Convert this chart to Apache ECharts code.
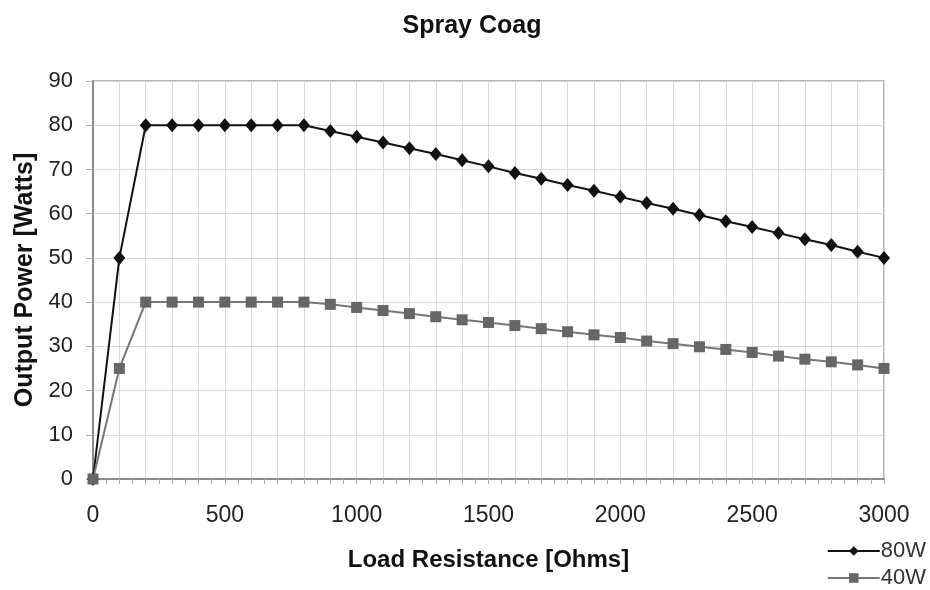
<!DOCTYPE html>
<html>
<head>
<meta charset="utf-8">
<title>Spray Coag</title>
<script src="https://cdn.jsdelivr.net/npm/echarts@6/dist/echarts.min.js"></script>
<style>
  html, body { margin: 0; padding: 0; background: #fff; }
  #chart { width: 930px; height: 590px; }
</style>
</head>
<body>
<div id="chart"></div>
<script>
// Load resistance steps (Ohms)
const resistance = [0, 100, 200, 300, 400, 500, 600, 700, 800, 900, 1000,
  1100, 1200, 1300, 1400, 1500, 1600, 1700, 1800, 1900, 2000,
  2100, 2200, 2300, 2400, 2500, 2600, 2700, 2800, 2900, 3000];

// Output power (Watts) for each setting
const power80W = [0, 50, 80, 80, 80, 80, 80, 80, 80, 78.7, 77.4,
  76.1, 74.8, 73.5, 72.1, 70.7, 69.2, 67.9, 66.5, 65.2, 63.8,
  62.4, 61.1, 59.7, 58.3, 57.0, 55.6, 54.2, 52.9, 51.4, 50];
const power40W = [0, 25, 40, 40, 40, 40, 40, 40, 40, 39.5, 38.8,
  38.1, 37.4, 36.7, 36.0, 35.4, 34.7, 34.0, 33.3, 32.6, 32.0,
  31.2, 30.6, 29.9, 29.3, 28.6, 27.8, 27.1, 26.5, 25.8, 25];

// Labelled ticks
const xTickLabels = [0, 500, 1000, 1500, 2000, 2500, 3000];
const yTickLabels = [0, 10, 20, 30, 40, 50, 60, 70, 80, 90];

const FONT = "'Liberation Sans', Arial, Helvetica, sans-serif";

const pairs = (ys) => resistance.map((x, i) => [x, ys[i]]);

const chart = echarts.init(document.getElementById('chart'), null, { renderer: 'canvas' });

chart.setOption({
  backgroundColor: '#ffffff',
  animation: false,
  title: {
    text: 'Spray Coag',
    left: 467,
    top: 9,
    textAlign: 'center',
    textStyle: { fontFamily: FONT, fontSize: 25, fontWeight: 'bold', color: '#111' }
  },
  legend: {
    orient: 'vertical',
    right: 4,
    top: 540,
    padding: 0,
    itemWidth: 52,
    itemHeight: 12,
    itemGap: 5,
    textStyle: { fontFamily: FONT, fontSize: 22, color: '#333', padding: [0, 0, 0, -4] },
    data: ['80W', '40W']
  },
  grid: {
    left: 93,
    right: 46,
    top: 81,
    bottom: 111,
    show: true,
    borderColor: '#a0a0a0',
    borderWidth: 1.5,
    backgroundColor: '#fff'
  },
  xAxis: {
    type: 'value',
    min: 0,
    max: 3000,
    interval: 100,
    name: 'Load Resistance [Ohms]',
    nameLocation: 'middle',
    nameGap: 69,
    nameTextStyle: { fontFamily: FONT, fontSize: 24, fontWeight: 'bold', color: '#111' },
    axisLine: { lineStyle: { color: '#8c8c8c', width: 2 } },
    axisTick: { show: true, length: 5, lineStyle: { color: '#aaa', width: 1 } },
    minorTick: { show: true, splitNumber: 2, length: 5, lineStyle: { color: '#aaa', width: 1 } },
    splitLine: { show: true, lineStyle: { color: '#d9d9d9', width: 1 } },
    axisLabel: {
      margin: 25,
      fontFamily: FONT,
      fontSize: 23,
      color: '#222',
      formatter: (v) => (xTickLabels.indexOf(v) >= 0 ? String(v) : '')
    }
  },
  yAxis: {
    type: 'value',
    min: 0,
    max: 90,
    interval: 10,
    name: 'Output Power [Watts]',
    nameLocation: 'middle',
    nameGap: 55,
    nameTextStyle: { fontFamily: FONT, fontSize: 25, fontWeight: 'bold', color: '#111' },
    axisLine: { show: true, lineStyle: { color: '#8c8c8c', width: 2 } },
    axisTick: { show: true, length: 7, lineStyle: { color: '#aaa', width: 1 } },
    splitLine: { show: true, lineStyle: { color: '#d9d9d9', width: 1 } },
    axisLabel: {
      margin: 20,
      fontFamily: FONT,
      fontSize: 22,
      color: '#222',
      formatter: (v) => (yTickLabels.indexOf(v) >= 0 ? String(v) : '')
    }
  },
  series: [
    {
      name: '80W',
      type: 'line',
      data: pairs(power80W),
      symbol: 'diamond',
      symbolSize: [12, 14],
      itemStyle: { color: '#111' },
      lineStyle: { color: '#111', width: 2 },
      emphasis: { disabled: true }
    },
    {
      name: '40W',
      type: 'line',
      data: pairs(power40W),
      symbol: 'rect',
      symbolSize: 11,
      itemStyle: { color: '#666' },
      lineStyle: { color: '#777', width: 2 },
      emphasis: { disabled: true }
    }
  ]
});
</script>
</body>
</html>
